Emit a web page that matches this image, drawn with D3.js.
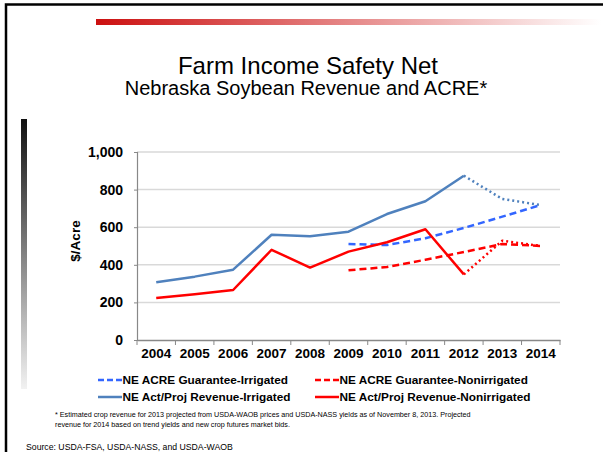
<!DOCTYPE html>
<html><head><meta charset="utf-8">
<script src="https://cdn.jsdelivr.net/npm/d3@7"></script>
<style>body{margin:0;background:#fff}svg{display:block;font-family:"Liberation Sans",Arial,sans-serif}</style>
</head><body>
<svg id="c" width="603" height="452"></svg>
<script>
const years = ["2004","2005","2006","2007","2008","2009","2010","2011","2012","2013","2014"];
const revIrr = [307,337,374,560,552,576,670,738,874,750,718];
const revNon = [223,243,266,480,385,470,520,589,349,528,500];
const guarIrr = [null,null,null,null,null,511,505,541,596,656,718];
const guarNon = [null,null,null,null,null,371,388,427,468,511,500];
const yTicks = [0,200,400,600,800,1000];
const lastActualYear = "2012";
const legendItems = [
  {label:"NE ACRE Guarantee-Irrigated", color:"#3366ff", dash:"6,3"},
  {label:"NE ACRE Guarantee-Nonirrigated", color:"#ff0000", dash:"6,3"},
  {label:"NE Act/Proj Revenue-Irrigated", color:"#4f81bd", dash:null},
  {label:"NE Act/Proj Revenue-Nonirrigated", color:"#ff0000", dash:null}
];

const svg = d3.select("#c");
const defs = svg.append("defs");
const g1 = defs.append("linearGradient").attr("id","redbar").attr("x1","0").attr("x2","1");
g1.append("stop").attr("offset","0").attr("stop-color","#cc1010");
g1.append("stop").attr("offset","1").attr("stop-color","#ffffff");
const g2 = defs.append("linearGradient").attr("id","blackbar").attr("x1","0").attr("x2","0").attr("y1","0").attr("y2","1");
g2.append("stop").attr("offset","0").attr("stop-color","#111");
g2.append("stop").attr("offset","1").attr("stop-color","#f2f2f2");

// slide frame
svg.append("rect").attr("x",6).attr("y",4.5).attr("width",620).attr("height",460).attr("fill","none").attr("stroke","#000").attr("stroke-width",2.5);
svg.append("rect").attr("x",96).attr("y",19).attr("width",505).attr("height",6).attr("fill","url(#redbar)");
svg.append("rect").attr("x",21).attr("y",119).attr("width",6).attr("height",270).attr("fill","url(#blackbar)");

svg.append("text").attr("x",308).attr("y",74).attr("text-anchor","middle").attr("font-size",24).text("Farm Income Safety Net");
svg.append("text").attr("x",306).attr("y",95).attr("text-anchor","middle").attr("font-size",20).text("Nebraska Soybean Revenue and ACRE*");

const x = d3.scaleBand().domain(years).range([137,560]).padding(0);
const y = d3.scaleLinear().domain([0,1000]).range([340,152]);
const cx = d => x(d) + x.bandwidth()/2;

// gridlines
svg.append("g").selectAll("line").data(yTicks.filter(t=>t>0)).join("line")
  .attr("x1",137).attr("x2",560).attr("y1",d=>y(d)).attr("y2",d=>y(d))
  .attr("stroke","#d9d9d9").attr("stroke-width",1.5);

// y axis
const ya = svg.append("g").attr("transform","translate(137,0)")
  .call(d3.axisLeft(y).tickValues(yTicks).tickSize(3).tickFormat(d3.format(",")));
ya.select(".domain").attr("stroke","#888").attr("stroke-width",1.2);
ya.selectAll(".tick line").attr("stroke","#888");
ya.selectAll("text").attr("x",-14).attr("font-size",14).attr("font-weight","bold").attr("fill","#000")
  .attr("font-family","Liberation Sans, Arial, sans-serif");

// x axis
const xa = svg.append("g").attr("transform","translate(0,340)")
  .call(d3.axisBottom(x).tickSize(0).tickPadding(14));
xa.select(".domain").attr("stroke","#888").attr("stroke-width",1.5);
xa.selectAll("text").attr("font-size",13.5).attr("font-weight","bold").attr("fill","#000")
  .attr("font-family","Liberation Sans, Arial, sans-serif").attr("dy","0.3em");
svg.append("g").selectAll("line").data(years.concat(["end"])).join("line")
  .attr("x1",(d,i)=>137+i*x.bandwidth()).attr("x2",(d,i)=>137+i*x.bandwidth())
  .attr("y1",340).attr("y2",345).attr("stroke","#888");

svg.append("text").attr("transform","translate(80,241) rotate(-90)").attr("text-anchor","middle")
  .attr("font-size",13.5).attr("font-weight","bold").text("$/Acre");

const line = d3.line().defined(d=>d.v!=null).x(d=>cx(d.yr)).y(d=>y(d.v));
const pts = arr => years.map((yr,i)=>({yr, v:arr[i]}));
const split = years.indexOf(lastActualYear);

function draw(arr, color, dash, width){
  svg.append("path").datum(arr).attr("d",line).attr("fill","none").attr("stroke",color)
    .attr("stroke-width",width).attr("stroke-dasharray",dash).attr("stroke-linejoin","round");
}
draw(pts(guarNon), "#ff0000", "7,4", 2.5);
draw(pts(guarIrr), "#3366ff", "7,4", 2.5);
draw(pts(revIrr).slice(0,split+1), "#4f81bd", null, 2.5);
draw(pts(revIrr).slice(split), "#4f81bd", "2,3", 2.5);
draw(pts(revNon).slice(0,split+1), "#ff0000", null, 2.5);
draw(pts(revNon).slice(split), "#ff0000", "2,3", 2.5);

// legend
const lg = svg.append("g");
const lx = [98, 315], ly = [380, 397];
legendItems.forEach((it,i)=>{
  const col = i%2, row = Math.floor(i/2);
  lg.append("line").attr("x1",lx[col]).attr("x2",lx[col]+24).attr("y1",ly[row]).attr("y2",ly[row])
    .attr("stroke",it.color).attr("stroke-width",2.5).attr("stroke-dasharray",it.dash);
  lg.append("text").attr("x",lx[col]+24.5).attr("y",ly[row]+4.3).attr("font-size",11.8).attr("font-weight","bold").text(it.label);
});

svg.append("text").attr("x",55).attr("y",417).attr("font-size",7.2)
  .text("* Estimated crop revenue for 2013 projected from USDA-WAOB prices and USDA-NASS yields as of November 8, 2013. Projected");
svg.append("text").attr("x",55).attr("y",427).attr("font-size",7.2)
  .text("revenue for 2014 based on trend yields and new crop futures market bids.");
svg.append("text").attr("x",26).attr("y",450).attr("font-size",8.7).text("Source: USDA-FSA, USDA-NASS, and USDA-WAOB");
</script>
</body></html>
